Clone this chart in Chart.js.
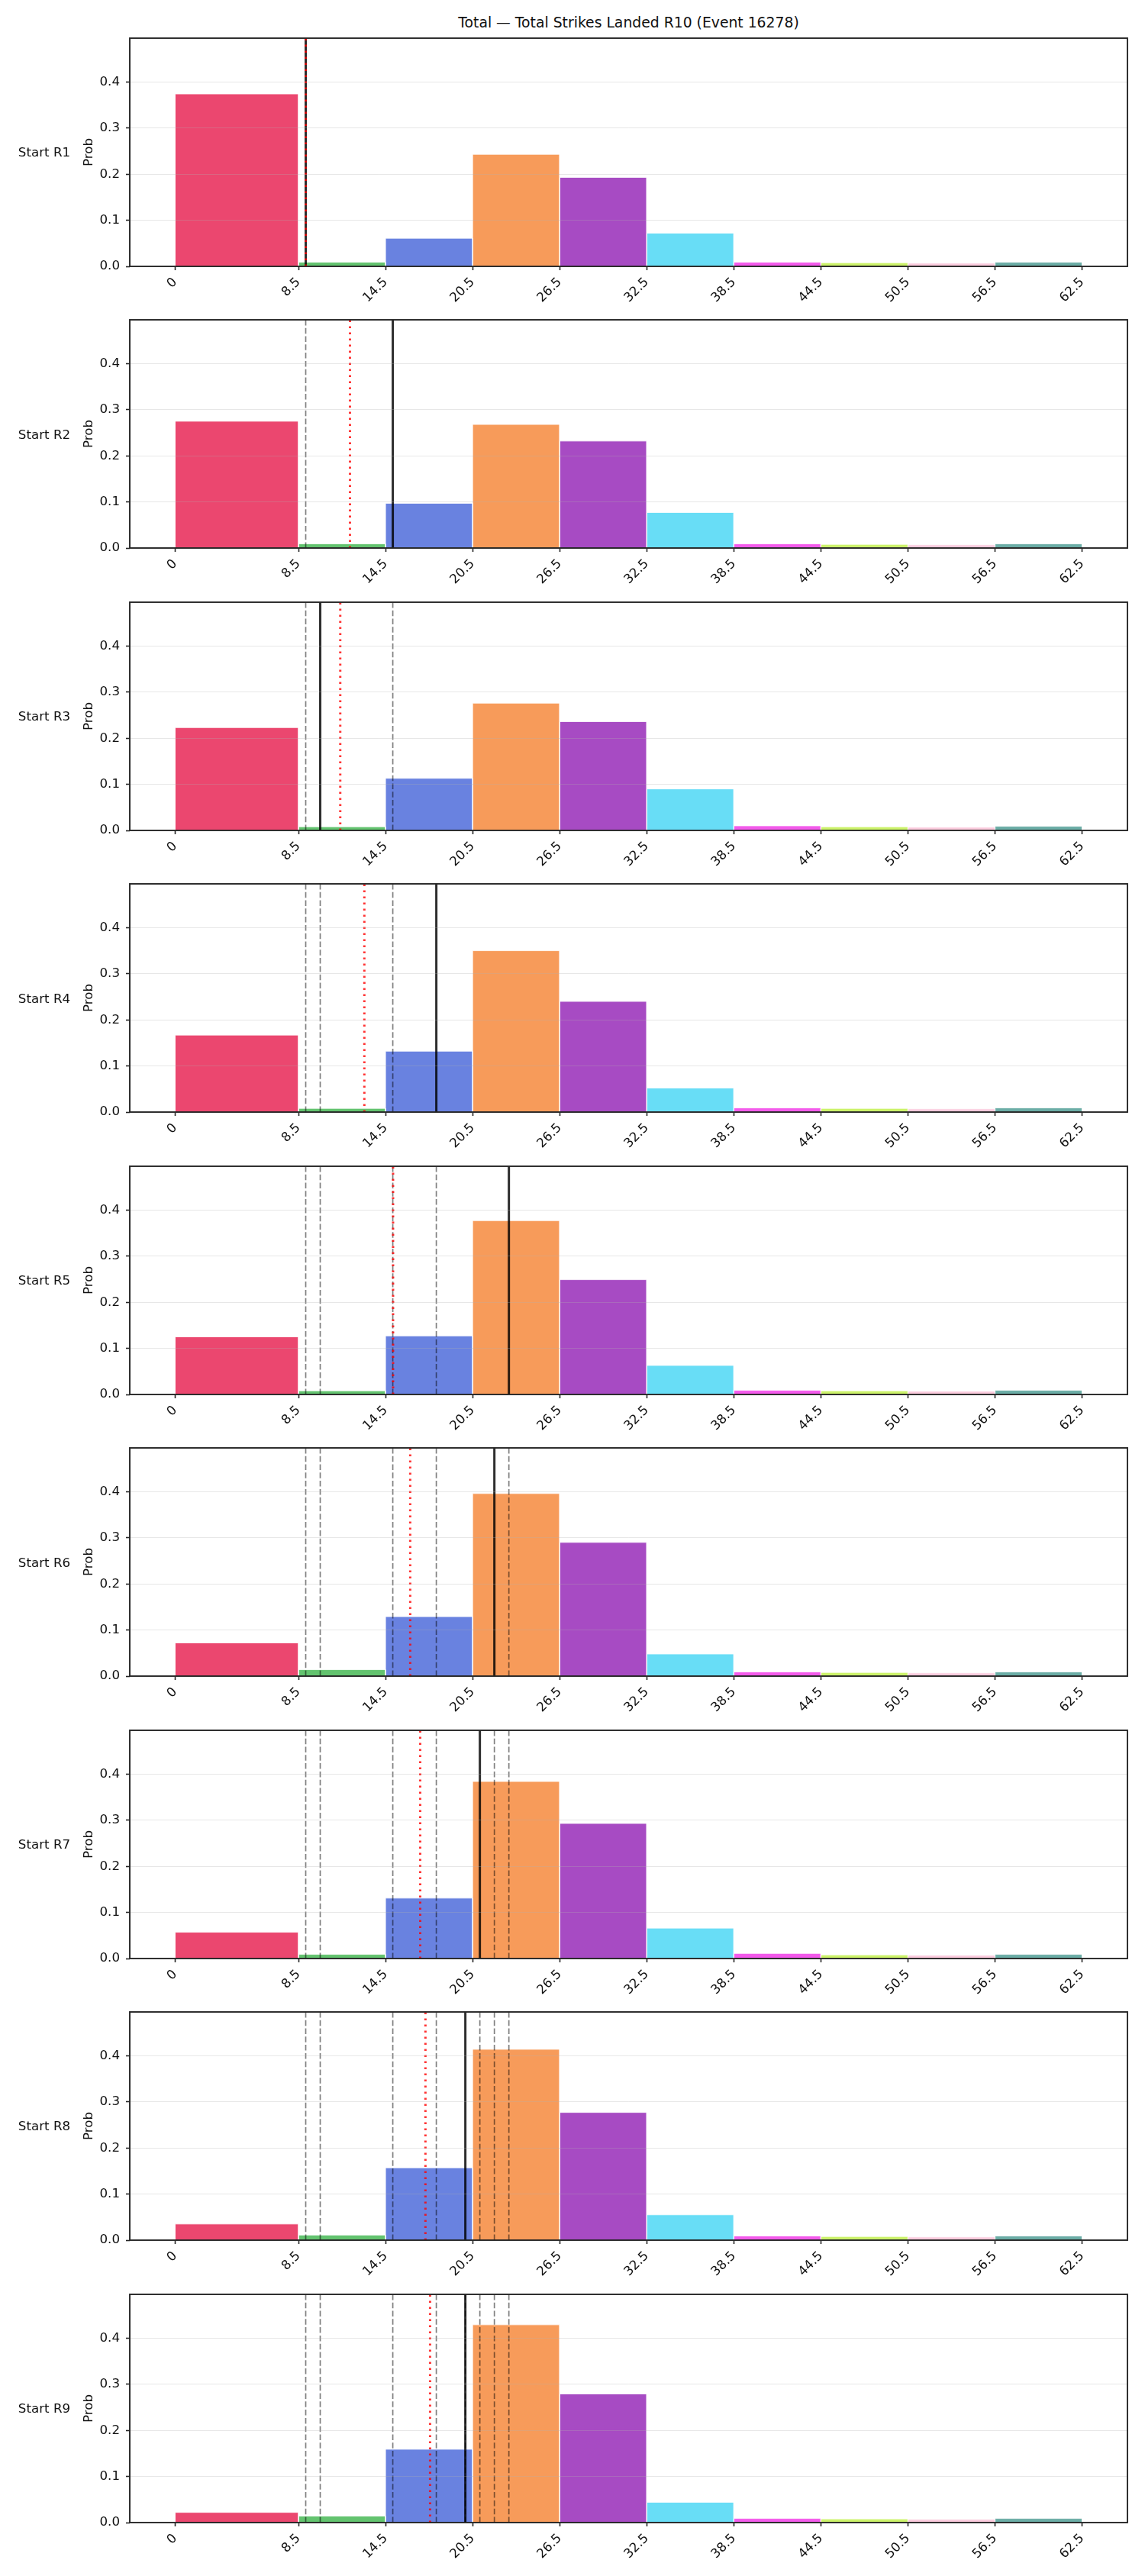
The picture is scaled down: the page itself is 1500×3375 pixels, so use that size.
<!DOCTYPE html>
<html>
<head>
<meta charset="utf-8">
<script src="https://cdn.jsdelivr.net/npm/chart.js@4.4.1/dist/chart.umd.min.js"></script>
<style>
  html, body { margin: 0; padding: 0; background: #fff; }
  body { width: 1500px; height: 3375px; position: relative; overflow: hidden; font-family: "DejaVu Sans", sans-serif; color: #111; }
  #title { position: absolute; left: 170px; width: 1307px; top: 19px; text-align: center; font-size: 18.8px; line-height: 22px; }
  .rowlabel { position: absolute; left: 0; width: 116px; text-align: center; font-size: 16.7px; line-height: 20px; }
  canvas { position: absolute; left: 0; }
</style>
</head>
<body>
<div id="title">Total — Total Strikes Landed R10 (Event 16278)</div>

<script>
// bin edges of the histogram (also the x tick positions)
const binEdges = [0, 8.5, 14.5, 20.5, 26.5, 32.5, 38.5, 44.5, 50.5, 56.5, 62.5];
const xTickLabels = ["0", "8.5", "14.5", "20.5", "26.5", "32.5", "38.5", "44.5", "50.5", "56.5", "62.5"];
const yTicks = [0, 0.1, 0.2, 0.3, 0.4];
const yTickLabels = ["0.0", "0.1", "0.2", "0.3", "0.4"];
const binColors = ["#e6194b", "#3cb44b", "#4363d8", "#f58231", "#911eb4",
                   "#42d4f4", "#f032e6", "#bfef45", "#fabed4", "#469990"];
const rowLabels = ["Start R1", "Start R2", "Start R3", "Start R4", "Start R5",
                   "Start R6", "Start R7", "Start R8", "Start R9"];

// probability per bin, one array per starting round
const probR1 = [0.374, 0.009, 0.061, 0.243, 0.193, 0.072, 0.009, 0.008, 0.007, 0.009];
const probR2 = [0.275, 0.009, 0.097, 0.268, 0.232, 0.077, 0.009, 0.008, 0.007, 0.009];
const probR3 = [0.223, 0.008, 0.113, 0.276, 0.236, 0.090, 0.010, 0.008, 0.007, 0.009];
const probR4 = [0.167, 0.008, 0.132, 0.350, 0.240, 0.052, 0.009, 0.008, 0.007, 0.009];
const probR5 = [0.125, 0.008, 0.127, 0.377, 0.249, 0.063, 0.009, 0.008, 0.007, 0.009];
const probR6 = [0.072, 0.014, 0.129, 0.396, 0.290, 0.048, 0.009, 0.008, 0.007, 0.009];
const probR7 = [0.057, 0.009, 0.131, 0.384, 0.293, 0.066, 0.011, 0.008, 0.007, 0.009];
const probR8 = [0.035, 0.011, 0.157, 0.414, 0.277, 0.055, 0.009, 0.008, 0.007, 0.009];
const probR9 = [0.022, 0.014, 0.159, 0.429, 0.279, 0.044, 0.009, 0.008, 0.007, 0.009];
const allProbs = [probR1, probR2, probR3, probR4, probR5, probR6, probR7, probR8, probR9];

// black solid line per round; earlier ones are repeated as grey dashed lines
const lineValues = [9, 15, 10, 18, 23, 22, 21, 20, 20];
// red dotted line per round
const projValues = [9.0, 12.05, 11.38, 13.04, 15.02, 16.2, 16.89, 17.25, 17.57];

const X_MIN = -3.125, X_MAX = 65.625, Y_MAX = 0.495;
const AX_RIGHT = 1477, AX_TOP0 = 50, AX_STEP = 369.45, AX_H = 298.5;
const PAD_TOP = 22, XAXIS_H = 56;

Chart.defaults.font.family = "'DejaVu Sans', sans-serif";
Chart.defaults.color = "#111";

const tickFont = { family: "'DejaVu Sans', sans-serif", size: 16.7 };

const framePlugin = {
  id: "frame",
  afterDraw(chart) {
    const { ctx, chartArea: a } = chart;
    ctx.save();
    ctx.strokeStyle = "#262626";
    ctx.lineWidth = 1.9;
    ctx.strokeRect(a.left, a.top, a.right - a.left, a.bottom - a.top);
    ctx.restore();
  }
};

function barDatasets(probs) {
  return probs.map((p, k) => ({
    data: [
      { x: binEdges[k], y: 0 }, { x: binEdges[k], y: p },
      { x: binEdges[k + 1], y: p }, { x: binEdges[k + 1], y: 0 }
    ],
    backgroundColor: binColors[k] + "cc",
    borderColor: "#ffffff",
    borderWidth: 0.8,
    fill: "origin",
    pointRadius: 0,
    tension: 0,
    order: 10
  }));
}

function vline(x, color, width, dash, order) {
  return {
    data: [{ x: x, y: 0 }, { x: x, y: Y_MAX }],
    borderColor: color,
    borderWidth: width,
    borderDash: dash,
    fill: false,
    pointRadius: 0,
    order: order
  };
}

allProbs.forEach(function (probs, i) {
  const axTop = AX_TOP0 + i * AX_STEP;
  const canvas = document.createElement("canvas");
  canvas.width = 1500;
  canvas.height = Math.round(PAD_TOP + AX_H + XAXIS_H);
  canvas.style.top = Math.round(axTop - PAD_TOP) + "px";
  canvas.style.width = "1500px";
  canvas.style.height = canvas.height + "px";
  document.body.appendChild(canvas);

  const label = document.createElement("div");
  label.className = "rowlabel";
  label.textContent = rowLabels[i];
  label.style.top = Math.round(axTop + AX_H / 2 - 10) + "px";
  document.body.appendChild(label);

  const datasets = barDatasets(probs);
  lineValues.slice(0, i).forEach(v => {
    datasets.push(vline(v, "rgba(0,0,0,0.5)", 1.7, [7.5, 3.3], 3));
  });
  datasets.push(vline(lineValues[i], "rgba(0,0,0,0.82)", 3, [], 2));
  datasets.push(vline(projValues[i], "rgba(255,0,0,0.8)", 3, [2.6, 5.4], 1));

  new Chart(canvas.getContext("2d"), {
    type: "line",
    data: { datasets: datasets },
    plugins: [framePlugin],
    options: {
      responsive: false,
      animation: false,
      devicePixelRatio: 1,
      layout: { padding: { left: 103, right: 1500 - AX_RIGHT, top: PAD_TOP, bottom: 0 } },
      plugins: {
        legend: { display: false },
        tooltip: { enabled: false },
        title: { display: false }
      },
      scales: {
        x: {
          type: "linear",
          min: X_MIN,
          max: X_MAX,
          afterBuildTicks: ax => { ax.ticks = binEdges.map(v => ({ value: v })); },
          afterFit: ax => { ax.height = XAXIS_H; },
          ticks: {
            autoSkip: false, minRotation: 45, maxRotation: 45, padding: 6,
            color: "#111", font: tickFont,
            callback: (v, idx) => xTickLabels[idx]
          },
          grid: { drawOnChartArea: false, drawTicks: true, tickLength: 5, tickColor: "#262626", tickWidth: 1.6 },
          border: { display: false }
        },
        y: {
          type: "linear",
          min: 0,
          max: Y_MAX,
          afterBuildTicks: ax => { ax.ticks = yTicks.map(v => ({ value: v })); },
          afterFit: ax => { ax.width = 67; },
          ticks: {
            padding: 8, color: "#111", font: tickFont,
            callback: (v, idx) => yTickLabels[idx]
          },
          grid: { color: "rgba(176,176,176,0.3)", lineWidth: 1, z: 1, tickLength: 5, tickColor: "#262626", tickWidth: 1.6 },
          border: { display: false },
          title: { display: true, text: "Prob", color: "#111", font: tickFont, padding: { top: 4, bottom: 4 } }
        }
      }
    }
  });
});
</script>
</body>
</html>
